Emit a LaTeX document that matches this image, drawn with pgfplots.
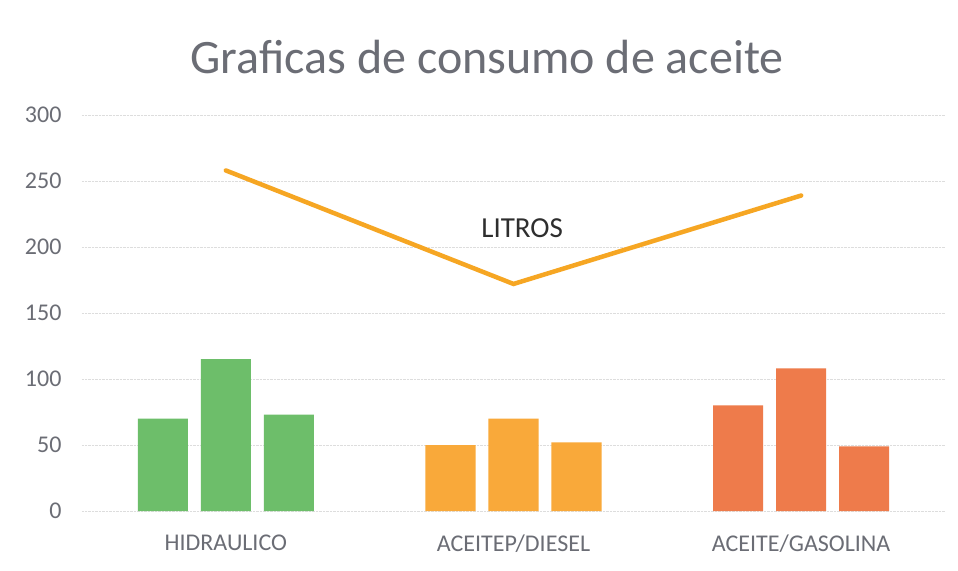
\documentclass[border=0pt]{standalone}
\usepackage{pgfplots}
\pgfplotsset{compat=1.18}
\usepackage{fontspec}
\setmainfont{Carlito}
\definecolor{cgreen}{HTML}{6DBE6A}
\definecolor{corange}{HTML}{F9A93A}
\definecolor{cred}{HTML}{EE7B4B}
\definecolor{cline}{HTML}{F6A623}
\definecolor{ctext}{HTML}{6B6D75}
\definecolor{cgrid}{HTML}{DDDDDD}
\begin{document}
\begin{tikzpicture}
\fill[white] (-82pt,-59pt) rectangle (876pt,511pt);
\begin{axis}[
  at={(0,0)}, anchor=south west,
  scale only axis, width=863pt, height=396pt,
  xmin=-0.5, xmax=2.5, ymin=0, ymax=300,
  ytick={0,50,...,300},
  xtick={0,1,2},
  xticklabels={HIDRAULICO,ACEITEP/DIESEL,ACEITE/GASOLINA},
  axis line style={draw=none},
  major tick length=0pt,
  ymajorgrids, grid style={cgrid, densely dotted, line width=0.8pt},
  tick label style={font=\fontsize{24}{28}\selectfont, text=ctext},
  /pgf/number format/assume math mode=true,
  yticklabel style={xshift=-17pt},
  xticklabel style={yshift=-20pt},
  clip=false,
]
\addplot[ybar, bar width=0.174, fill=cgreen, draw=none] coordinates {(-0.219,70) (0,115) (0.219,73)};
\addplot[ybar, bar width=0.174, fill=corange, draw=none] coordinates {(0.781,50) (1,70) (1.219,52)};
\addplot[ybar, bar width=0.174, fill=cred, draw=none] coordinates {(1.781,80) (2,108) (2.219,49)};
\addplot[cline, line width=4.5pt, line cap=round, line join=miter] coordinates {(0,258) (1,172) (2,239)};
\node[font=\fontsize{29}{34}\selectfont, text=black!82] at (axis cs:1.03,214) {LITROS};
\end{axis}
\node[font=\fontsize{48}{56}\selectfont, text=ctext] at (405pt,454pt) {Graficas de consumo de aceite};
\path[use as bounding box] (-82pt,-59pt) rectangle (876pt,511pt);
\end{tikzpicture}
\end{document}
